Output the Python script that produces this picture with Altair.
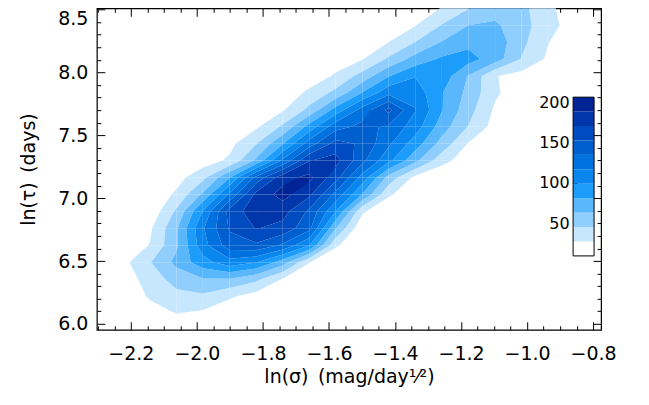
import math
import altair as alt
import pandas as pd

# ---- grid of the 2D histogram (bin centres) ----
X_GRID = [-2.303, -2.223, -2.142, -2.062, -1.982, -1.901, -1.821, -1.740, -1.660, -1.580,
          -1.499, -1.419, -1.339, -1.258, -1.178, -1.097, -1.017, -0.937, -0.856, -0.776]
Y_GRID = [5.953, 6.088, 6.222, 6.357, 6.491, 6.626, 6.760, 6.895, 7.030, 7.164,
          7.299, 7.433, 7.568, 7.702, 7.837, 7.972, 8.106, 8.241, 8.375, 8.510]

# counts, one row per Y_GRID value (bottom -> top), one column per X_GRID value
COUNTS = [
    [0, 1, 3, 11, 12, 10, 6, 3, 1, 0, 0, 0, 0, 0, 0, 0, 0, 0, 0, 0],
    [0, 3, 18, 28, 24, 14, 8, 4, 1, 0, 0, 0, 0, 0, 0, 0, 0, 0, 0, 0],
    [1, 10, 30, 40, 42, 30, 20, 10, 3, 1, 0, 0, 0, 0, 0, 0, 0, 0, 0, 0],
    [4, 16, 36, 52, 62, 62, 50, 26, 10, 3, 0, 0, 0, 0, 0, 0, 0, 0, 0, 0],
    [8, 22, 44, 68, 92, 110, 100, 72, 28, 10, 2, 0, 0, 0, 0, 0, 0, 0, 0, 0],
    [5, 12, 28, 60, 110, 145, 150, 132, 100, 30, 10, 2, 0, 0, 0, 0, 0, 0, 0, 0],
    [2, 10, 24, 60, 115, 155, 172, 165, 140, 64, 12, 4, 0, 0, 0, 0, 0, 0, 0, 0],
    [1, 6, 14, 48, 100, 160, 182, 178, 150, 100, 30, 10, 3, 0, 0, 0, 0, 0, 0, 0],
    [0, 5, 14, 30, 66, 120, 176, 196, 175, 130, 80, 30, 12, 3, 0, 0, 0, 0, 0, 0],
    [0, 2, 8, 20, 40, 80, 140, 182, 194, 160, 110, 56, 22, 10, 4, 0, 0, 0, 0, 0],
    [0, 0, 3, 8, 18, 30, 66, 120, 170, 178, 140, 104, 68, 34, 16, 5, 0, 0, 0, 0],
    [0, 0, 1, 4, 10, 22, 44, 80, 126, 160, 150, 120, 90, 56, 26, 12, 3, 0, 0, 0],
    [0, 0, 0, 2, 5, 10, 24, 48, 88, 128, 140, 132, 108, 72, 44, 20, 8, 2, 0, 0],
    [0, 0, 0, 0, 2, 5, 10, 25, 50, 88, 124, 158, 118, 82, 52, 24, 10, 3, 0, 0],
    [0, 0, 0, 0, 0, 2, 5, 12, 32, 50, 82, 112, 110, 82, 58, 30, 15, 5, 1, 0],
    [0, 0, 0, 0, 0, 0, 2, 5, 14, 30, 52, 80, 98, 92, 62, 28, 20, 10, 2, 0],
    [0, 0, 0, 0, 0, 0, 0, 2, 6, 15, 26, 48, 70, 84, 88, 72, 44, 24, 10, 2],
    [0, 0, 0, 0, 0, 0, 0, 0, 3, 8, 18, 27, 45, 64, 76, 74, 50, 28, 12, 3],
    [0, 0, 0, 0, 0, 0, 0, 0, 1, 4, 10, 15, 26, 46, 63, 66, 52, 34, 18, 4],
    [0, 0, 0, 0, 0, 0, 0, 0, 0, 2, 6, 10, 15, 28, 44, 55, 50, 32, 15, 4],
]

# contour levels (band edges) and band colours
LEVELS = [9, 27, 45, 63, 81, 99, 117, 135, 153, 171, 189, 207]
BAND_COLORS = ["#ffffff", "#c6e7fd", "#8fcefd", "#5bb7fb", "#1c9dfb", "#0a87ee",
               "#0072df", "#005fcf", "#004bbf", "#0036aa", "#002396"]
CBAR_TICKS = [50, 100, 150, 200]

# axis ticks
X_MAJOR = [-2.2, -2.0, -1.8, -1.6, -1.4, -1.2, -1.0, -0.8]
X_MINOR = [-2.30, -2.25, -2.15, -2.10, -2.05, -1.95, -1.90, -1.85, -1.75, -1.70, -1.65,
           -1.55, -1.50, -1.45, -1.35, -1.30, -1.25, -1.15, -1.10, -1.05, -0.95, -0.90, -0.85]
Y_MAJOR = [6.0, 6.5, 7.0, 7.5, 8.0, 8.5]
Y_MINOR = [6.1, 6.2, 6.3, 6.4, 6.6, 6.7, 6.8, 6.9, 7.1, 7.2, 7.3, 7.4,
           7.6, 7.7, 7.8, 7.9, 8.1, 8.2, 8.3, 8.4]

X_TITLE = "ln(\u03c3)\u2002(mag/day\u00b9\u2044\u00b2)"
Y_TITLE = "ln(\u03c4)\u2002(days)"

W, H = 505, 322
FONT = "DejaVu Sans"


def band_polygon(corners, vals, lo, hi):
    pts = []
    for k in range(4):
        (xp, yp), vp = corners[k], vals[k]
        (xq, yq), vq = corners[(k + 1) % 4], vals[(k + 1) % 4]
        if lo <= vp < hi:
            pts.append((xp, yp))
        cross = []
        for L in (lo, hi):
            if math.isfinite(L) and (vp - L) * (vq - L) < 0:
                t = (L - vp) / (vq - vp)
                cross.append((t, xp + t * (xq - xp), yp + t * (yq - yp)))
        cross.sort()
        pts += [(x, y) for _, x, y in cross]
    return pts


rows = []
pid = 0
nb = len(LEVELS) - 1
for j in range(len(Y_GRID) - 1):
    for i in range(len(X_GRID) - 1):
        corners = [(X_GRID[i], Y_GRID[j]), (X_GRID[i + 1], Y_GRID[j]),
                   (X_GRID[i + 1], Y_GRID[j + 1]), (X_GRID[i], Y_GRID[j + 1])]
        vals = [COUNTS[j][i] + 1e-3, COUNTS[j][i + 1] + 1e-3,
                COUNTS[j + 1][i + 1] + 1e-3, COUNTS[j + 1][i] + 1e-3]
        for b in range(1, nb):
            lo = LEVELS[b]
            hi = LEVELS[b + 1] if b < nb - 1 else math.inf
            pts = band_polygon(corners, vals, lo, hi)
            if len(pts) >= 3:
                for k, (x, y) in enumerate(pts):
                    rows.append({"pid": pid, "k": k, "x": round(x, 5), "y": round(y, 5), "band": b})
                pid += 1

poly = pd.DataFrame(rows)

xscale = alt.Scale(domain=[X_GRID[0], X_GRID[-1]], nice=False, zero=False)
yscale = alt.Scale(domain=[Y_GRID[0], Y_GRID[-1]], nice=False, zero=False)
fillscale = alt.Scale(domain=list(range(nb)), range=BAND_COLORS)
cbscale = alt.Scale(domain=[LEVELS[0], LEVELS[-1]], range=[248, 89], nice=False, zero=False)


def tick_axis(orient, offset, values, size):
    return alt.Axis(orient=orient, offset=offset, values=values, tickSize=size, tickWidth=1,
                    tickColor="black", labels=False, domain=False, grid=False, title=None)


contour = alt.Chart(poly).mark_line(strokeWidth=0, strokeOpacity=0).encode(
    x=alt.X("x:Q", scale=xscale, axis=alt.Axis(
        orient="bottom", values=X_MAJOR, ticks=False, tickSize=0, domain=False, grid=False,
        format=".1f", labelFont=FONT, labelFontSize=19, labelColor="black", labelPadding=15,
        labelFlush=False, labelOverlap=False,
        title=X_TITLE, titleFont=FONT, titleFontSize=19, titleFontWeight="normal",
        titleColor="black", titlePadding=4)),
    y=alt.Y("y:Q", scale=yscale, axis=alt.Axis(
        orient="left", values=Y_MAJOR, ticks=False, tickSize=0, domain=False, grid=False,
        format=".1f", labelFont=FONT, labelFontSize=19, labelColor="black", labelPadding=9,
        labelFlush=3, labelOverlap=False,
        title=Y_TITLE, titleFont=FONT, titleFontSize=19, titleFontWeight="normal",
        titleColor="black", titlePadding=19)),
    fill=alt.Fill("band:O", scale=fillscale, legend=None),
    detail="pid:N",
    order=alt.Order("k:Q"),
)

anchor = pd.DataFrame({"x": [X_MAJOR[0]], "y": [Y_MAJOR[0]]})


def tick_layer(xaxis, yaxis):
    return alt.Chart(anchor).mark_point(opacity=0).encode(
        x=alt.X("x:Q", scale=xscale, axis=xaxis),
        y=alt.Y("y:Q", scale=yscale, axis=yaxis),
    )


t1 = tick_layer(tick_axis("top", -H, X_MAJOR, 8), tick_axis("right", -W, Y_MAJOR, 8))
t2 = tick_layer(tick_axis("top", -H, X_MINOR, 4), tick_axis("right", -W, Y_MINOR, 4))
t3 = tick_layer(tick_axis("bottom", -H, X_MAJOR, 8), tick_axis("left", -W, Y_MAJOR, 8))
t4 = tick_layer(tick_axis("bottom", -H, X_MINOR, 4), tick_axis("left", -W, Y_MINOR, 4))

cb = pd.DataFrame({"lo": LEVELS[:-1], "hi": LEVELS[1:], "band": list(range(nb))})
cbar = alt.Chart(cb).mark_rect().encode(
    x=alt.value(477), x2=alt.value(498),
    y=alt.Y("lo:Q", scale=cbscale, axis=alt.Axis(
        orient="left", offset=-477, values=CBAR_TICKS, ticks=False, tickSize=0, domain=False,
        grid=False, labelFont=FONT, labelFontSize=16, labelColor="black", labelPadding=4,
        labelFlush=False, labelOverlap=False, title=None)),
    y2="hi:Q",
    fill=alt.Fill("band:O", scale=fillscale, legend=None),
)
cbbox = alt.Chart(pd.DataFrame({"lo": [LEVELS[0]], "hi": [LEVELS[-1]]})).mark_rect(
    fill="transparent", stroke="black", strokeWidth=1).encode(
    x=alt.value(477), x2=alt.value(498),
    y=alt.Y("lo:Q", scale=cbscale, axis=tick_axis("right", -28, CBAR_TICKS, 4)),
    y2="hi:Q",
)

chart = alt.layer(contour, t1, t2, t3, t4, cbar, cbbox).resolve_scale(
    y="independent").resolve_axis(x="independent", y="independent").properties(
    width=W, height=H,
    autosize=alt.AutoSizeParams(type="none"),
    padding={"left": 89, "top": 0, "right": 40, "bottom": 60},
    background="white",
).configure_view(stroke="black", strokeWidth=1.2).configure_axis(grid=False)

chart.save("out.html", embed_options={"renderer": "svg", "actions": False})
